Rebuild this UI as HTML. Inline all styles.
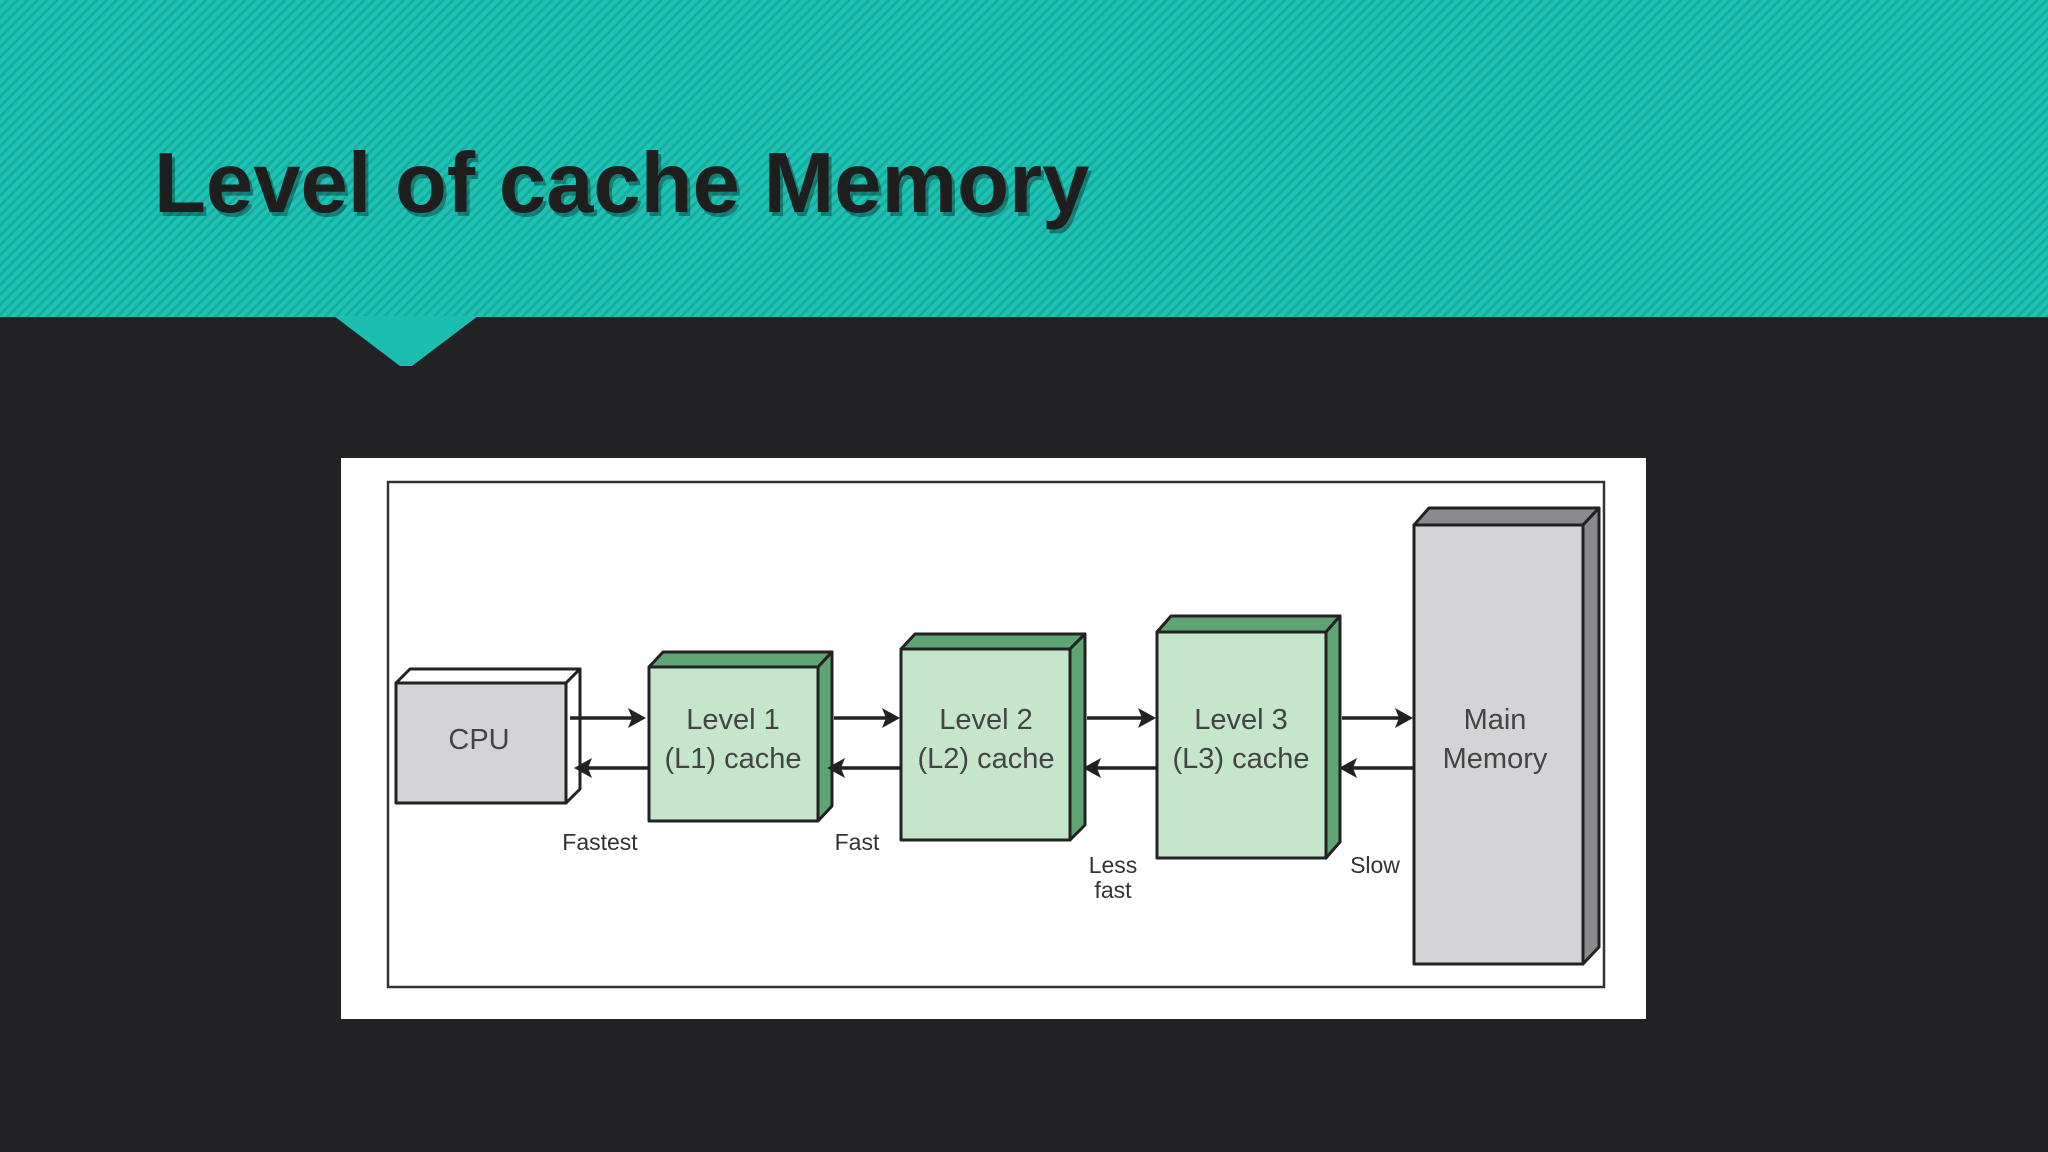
<!DOCTYPE html>
<html><head><meta charset="utf-8"><style>
html,body{margin:0;padding:0;width:2048px;height:1152px;overflow:hidden;background:#222224}
.hdr{position:absolute;left:0;top:0;width:2048px;height:317px;background:#1cbeb0;background-image:repeating-linear-gradient(135deg,#1ec3b4 0 4px,#16aea1 4px 7px)}
svg{position:absolute;left:0;top:0}
.t{font-family:"Liberation Sans",sans-serif;}
</style></head><body>
<div class="hdr"></div>
<svg width="2048" height="1152" viewBox="0 0 2048 1152">
<polygon points="334,316 478,316 412,366 400,366" fill="#1cbeb0"/>
<text x="154" y="212" class="t" font-size="85" font-weight="bold" fill="#0a0a0a" fill-opacity="0.35" transform="translate(3,4)">Level of cache Memory</text>
<text x="154" y="212" class="t" font-size="85" font-weight="bold" fill="#1e1e1e">Level of cache Memory</text>
<rect x="341" y="458" width="1305" height="561" fill="#ffffff"/>
<rect x="388" y="482" width="1216" height="505" fill="none" stroke="#333" stroke-width="2.5"/>
<g stroke="#222" stroke-width="3" stroke-linejoin="round">
<!-- CPU -->
<polygon points="396,683 410,669 580,669 566,683" fill="#fff"/>
<polygon points="566,683 580,669 580,789 566,803" fill="#fff"/>
<rect x="396" y="683" width="170" height="120" fill="#d4d4d6"/>
<!-- L1 -->
<polygon points="649,667 663,652 832,652 818,667" fill="#5fa574"/>
<polygon points="818,667 832,652 832,806 818,821" fill="#5fa574"/>
<rect x="649" y="667" width="169" height="154" fill="#c5e6ca"/>
<!-- L2 -->
<polygon points="901,649 915,634 1085,634 1070,649" fill="#5fa574"/>
<polygon points="1070,649 1085,634 1085,825 1070,840" fill="#5fa574"/>
<rect x="901" y="649" width="169" height="191" fill="#c5e6ca"/>
<!-- L3 -->
<polygon points="1157,632 1171,616 1340,616 1326,632" fill="#5fa574"/>
<polygon points="1326,632 1340,616 1340,842 1326,858" fill="#5fa574"/>
<rect x="1157" y="632" width="169" height="226" fill="#c5e6ca"/>
<!-- Main -->
<polygon points="1414,525 1429,508 1599,508 1583,525" fill="#8b8b8d"/>
<polygon points="1583,525 1599,508 1599,947 1583,964" fill="#8b8b8d"/>
<rect x="1414" y="525" width="169" height="439" fill="#d4d4d6"/>
</g>
<g stroke="#222" stroke-width="3.5" fill="#222">
<line x1="570" y1="718" x2="636" y2="718"/><polygon points="646,718 628,708 632,718 628,728" stroke="none"/>
<line x1="585" y1="768" x2="649" y2="768"/><polygon points="574,768 592,758 588,768 592,778" stroke="none"/>
<line x1="834" y1="718" x2="890" y2="718"/><polygon points="900,718 882,708 886,718 882,728" stroke="none"/>
<line x1="838" y1="768" x2="901" y2="768"/><polygon points="827,768 845,758 841,768 845,778" stroke="none"/>
<line x1="1087" y1="718" x2="1146" y2="718"/><polygon points="1156,718 1138,708 1142,718 1138,728" stroke="none"/>
<line x1="1094" y1="768" x2="1157" y2="768"/><polygon points="1083,768 1101,758 1097,768 1101,778" stroke="none"/>
<line x1="1342" y1="718" x2="1403" y2="718"/><polygon points="1413,718 1395,708 1399,718 1395,728" stroke="none"/>
<line x1="1350" y1="768" x2="1414" y2="768"/><polygon points="1339,768 1357,758 1353,768 1357,778" stroke="none"/>
</g>
<g class="t" fill="#444" font-size="29" text-anchor="middle">
<text x="479" y="749">CPU</text>
<text x="733" y="729">Level 1</text><text x="733" y="768">(L1) cache</text>
<text x="986" y="729">Level 2</text><text x="986" y="768">(L2) cache</text>
<text x="1241" y="729">Level 3</text><text x="1241" y="768">(L3) cache</text>
<text x="1495" y="729">Main</text><text x="1495" y="768">Memory</text>
</g>
<g class="t" fill="#333" font-size="23" text-anchor="middle">
<text x="600" y="850">Fastest</text>
<text x="857" y="850">Fast</text>
<text x="1113" y="873">Less</text><text x="1113" y="898">fast</text>
<text x="1375" y="873">Slow</text>
</g>
</svg>
</body></html>
